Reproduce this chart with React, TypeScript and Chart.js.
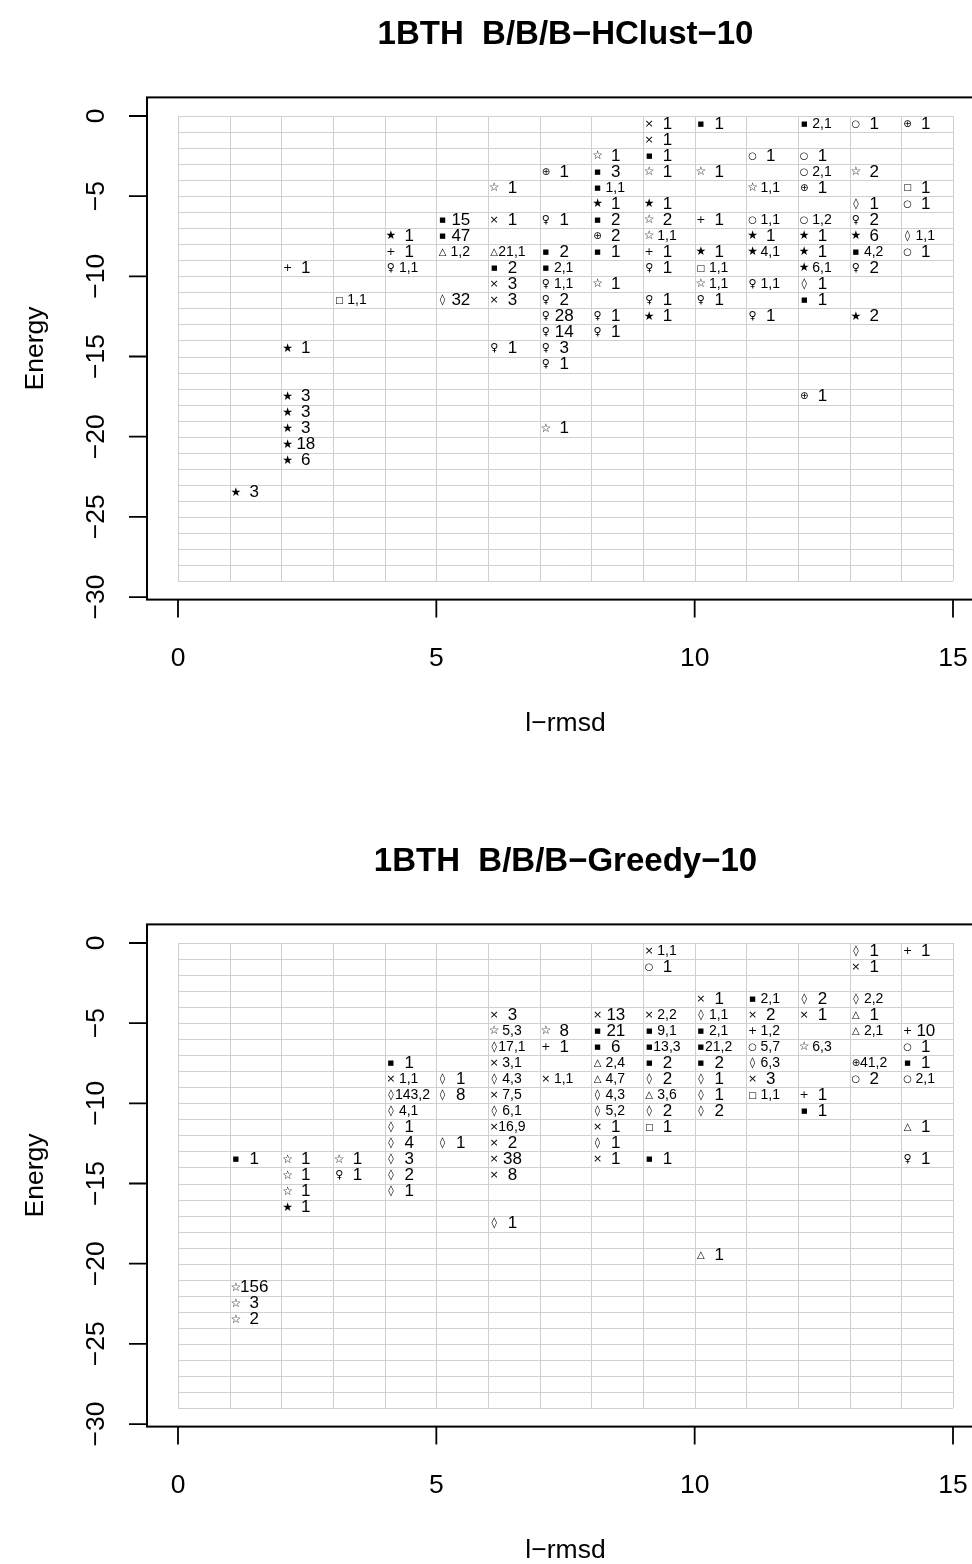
import { Chart, registerables, type ChartConfiguration, type Plugin } from "chart.js";
import { useEffect, useRef } from "react";

Chart.register(...registerables);

// Each entry is one cell: l-rmsd bin (left edge), energy bin (upper edge), symbol, count text.
const hclustRmsd = [
  9, 10, 12, 13, 14,
  9,
  8, 9, 11, 12,
  7, 8, 9, 10, 12, 13,
  6, 8, 11, 12, 14,
  8, 9, 13, 14,
  5, 6, 7, 8, 9, 10, 11, 12, 13,
  4, 5, 8, 9, 11, 12, 13, 14,
  4, 5, 6, 7, 8, 9, 10, 11, 12, 13, 14,
  2, 4, 6, 7, 9, 10, 12, 13,
  6, 7, 8, 10, 11, 12,
  3, 5, 6, 7, 9, 10, 12,
  7, 8, 9, 11, 13,
  7, 8,
  2, 6, 7,
  7,
  2, 12,
  2,
  2, 7,
  2,
  2,
  1,
];
const hclustEnergy = [
  0, 0, 0, 0, 0,
  -1,
  -2, -2, -2, -2,
  -3, -3, -3, -3, -3, -3,
  -4, -4, -4, -4, -4,
  -5, -5, -5, -5,
  -6, -6, -6, -6, -6, -6, -6, -6, -6,
  -7, -7, -7, -7, -7, -7, -7, -7,
  -8, -8, -8, -8, -8, -8, -8, -8, -8, -8, -8,
  -9, -9, -9, -9, -9, -9, -9, -9,
  -10, -10, -10, -10, -10, -10,
  -11, -11, -11, -11, -11, -11, -11,
  -12, -12, -12, -12, -12,
  -13, -13,
  -14, -14, -14,
  -15,
  -17, -17,
  -18,
  -19, -19,
  -20,
  -21,
  -23,
];
const hclustSymbol = [
  "×", "■", "■", "○", "⊕",
  "×",
  "☆", "■", "○", "○",
  "⊕", "■", "☆", "☆", "○", "☆",
  "☆", "■", "☆", "⊕", "□",
  "★", "★", "◊", "○",
  "■", "×", "♀", "■", "☆", "+", "○", "○", "♀",
  "★", "■", "⊕", "☆", "★", "★", "★", "◊",
  "+", "△", "△", "■", "■", "+", "★", "★", "★", "■", "○",
  "+", "♀", "■", "■", "♀", "□", "★", "♀",
  "×", "♀", "☆", "☆", "♀", "◊",
  "□", "◊", "×", "♀", "♀", "♀", "■",
  "♀", "♀", "★", "♀", "★",
  "♀", "♀",
  "★", "♀", "♀",
  "♀",
  "★", "⊕",
  "★",
  "★", "☆",
  "★",
  "★",
  "★",
];
const hclustCount = [
  "1", "1", "2,1", "1", "1",
  "1",
  "1", "1", "1", "1",
  "1", "3", "1", "1", "2,1", "2",
  "1", "1,1", "1,1", "1", "1",
  "1", "1", "1", "1",
  "15", "1", "1", "2", "2", "1", "1,1", "1,2", "2",
  "1", "47", "2", "1,1", "1", "1", "6", "1,1",
  "1", "1,2", "21,1", "2", "1", "1", "1", "4,1", "1", "4,2", "1",
  "1", "1,1", "2", "2,1", "1", "1,1", "6,1", "2",
  "3", "1,1", "1", "1,1", "1,1", "1",
  "1,1", "32", "3", "2", "1", "1", "1",
  "28", "1", "1", "1", "2",
  "14", "1",
  "1", "1", "3",
  "1",
  "3", "1",
  "3",
  "3", "1",
  "18",
  "6",
  "3",
];

const greedyRmsd = [
  9, 13, 14,
  9, 13,
  10, 11, 12, 13,
  6, 8, 9, 10, 11, 12, 13,
  6, 7, 8, 9, 10, 11, 13, 14,
  6, 7, 8, 9, 10, 11, 12, 14,
  4, 6, 8, 9, 10, 11, 13, 14,
  4, 5, 6, 7, 8, 9, 10, 11, 13, 14,
  4, 5, 6, 8, 9, 10, 11, 12,
  4, 6, 8, 9, 10, 12,
  4, 6, 8, 9, 14,
  4, 5, 6, 8,
  1, 2, 3, 4, 6, 8, 9, 14,
  2, 3, 4, 6,
  2, 4,
  2,
  6,
  10,
  1,
  1,
  1,
];
const greedyEnergy = [
  0, 0, 0,
  -1, -1,
  -3, -3, -3, -3,
  -4, -4, -4, -4, -4, -4, -4,
  -5, -5, -5, -5, -5, -5, -5, -5,
  -6, -6, -6, -6, -6, -6, -6, -6,
  -7, -7, -7, -7, -7, -7, -7, -7,
  -8, -8, -8, -8, -8, -8, -8, -8, -8, -8,
  -9, -9, -9, -9, -9, -9, -9, -9,
  -10, -10, -10, -10, -10, -10,
  -11, -11, -11, -11, -11,
  -12, -12, -12, -12,
  -13, -13, -13, -13, -13, -13, -13, -13,
  -14, -14, -14, -14,
  -15, -15,
  -16,
  -17,
  -19,
  -21,
  -22,
  -23,
];
const greedySymbol = [
  "×", "◊", "+",
  "○", "×",
  "×", "■", "◊", "◊",
  "×", "×", "×", "◊", "×", "×", "△",
  "☆", "☆", "■", "■", "■", "+", "△", "+",
  "◊", "+", "■", "■", "■", "○", "☆", "○",
  "■", "×", "△", "■", "■", "◊", "⊕", "■",
  "×", "◊", "◊", "×", "△", "◊", "◊", "×", "○", "○",
  "◊", "◊", "×", "◊", "△", "◊", "□", "+",
  "◊", "◊", "◊", "◊", "◊", "■",
  "◊", "×", "×", "□", "△",
  "◊", "◊", "×", "◊",
  "■", "☆", "☆", "◊", "×", "×", "■", "♀",
  "☆", "♀", "◊", "×",
  "☆", "◊",
  "★",
  "◊",
  "△",
  "☆",
  "☆",
  "☆",
];
const greedyCount = [
  "1,1", "1", "1",
  "1", "1",
  "1", "2,1", "2", "2,2",
  "3", "13", "2,2", "1,1", "2", "1", "1",
  "5,3", "8", "21", "9,1", "2,1", "1,2", "2,1", "10",
  "17,1", "1", "6", "13,3", "21,2", "5,7", "6,3", "1",
  "1", "3,1", "2,4", "2", "2", "6,3", "41,2", "1",
  "1,1", "1", "4,3", "1,1", "4,7", "2", "1", "3", "2", "2,1",
  "143,2", "8", "7,5", "4,3", "3,6", "1", "1,1", "1",
  "4,1", "6,1", "5,2", "2", "2", "1",
  "1", "16,9", "1", "1", "1",
  "4", "1", "2", "1",
  "1", "1", "1", "3", "38", "1", "1", "1",
  "1", "1", "2", "8",
  "1", "1",
  "1",
  "1",
  "1",
  "156",
  "3",
  "2",
];

const xTicks = [0, 5, 10, 15];
const yTicks = [0, -5, -10, -15, -20, -25, -30];
const gridCols = [0, 1, 2, 3, 4, 5, 6, 7, 8, 9, 10, 11, 12, 13, 14, 15];
const gridRows = [
  0, -1, -2, -3, -4, -5, -6, -7, -8, -9, -10, -11, -12, -13, -14, -15, -16, -17, -18, -19, -20,
  -21, -22, -23, -24, -25, -26, -27, -28, -29,
];

const PANEL_W = 1000;
const PANEL_H = 827;
const FONT = "'Liberation Sans', Arial, sans-serif";

// glyph sizes so the DejaVu symbols come out about the same size as in the original
const symbolSize: Record<string, number> = {
  "■": 7,
  "□": 9,
  "○": 10,
  "⊕": 10,
  "×": 11,
  "+": 11,
  "△": 10,
  "◊": 11,
  "★": 12,
  "☆": 12,
  "♀": 11,
};

const gridPlugin: Plugin<"scatter"> = {
  id: "cellGrid",
  beforeDatasetsDraw(chart) {
    const { ctx, scales } = chart;
    const x = scales.x;
    const y = scales.y;
    const top = y.getPixelForValue(gridRows[0]);
    const bottom = y.getPixelForValue(gridRows[gridRows.length - 1]);
    const left = x.getPixelForValue(gridCols[0]);
    const right = x.getPixelForValue(gridCols[gridCols.length - 1]);
    ctx.save();
    ctx.strokeStyle = "#d0d0d0";
    ctx.lineWidth = 1;
    ctx.beginPath();
    for (const c of gridCols) {
      const px = Math.round(x.getPixelForValue(c)) + 0.5;
      ctx.moveTo(px, top);
      ctx.lineTo(px, bottom);
    }
    for (const r of gridRows) {
      const py = Math.round(y.getPixelForValue(r)) + 0.5;
      ctx.moveTo(left, py);
      ctx.lineTo(right, py);
    }
    ctx.stroke();
    ctx.restore();
  },
};

const labelPlugin: Plugin<"scatter"> = {
  id: "cellLabels",
  afterDatasetsDraw(chart) {
    const { ctx } = chart;
    const symbols = (chart.data.datasets[0] as any).labels as string[];
    const counts = (chart.data.datasets[1] as any).labels as string[];
    ctx.save();
    ctx.fillStyle = "#000";
    ctx.textBaseline = "middle";

    ctx.textAlign = "center";
    chart.getDatasetMeta(0).data.forEach((el, i) => {
      const s = symbols[i];
      ctx.font = `${symbolSize[s] ?? 10}px 'DejaVu Sans'`;
      ctx.fillText(s, el.x, el.y);
    });

    ctx.textAlign = "left";
    chart.getDatasetMeta(1).data.forEach((el, i) => {
      const text = counts[i];
      const hasComma = text.includes(",");
      ctx.font = `${hasComma ? 14 : 17}px ${FONT}`;
      ctx.fillText(text.padStart(hasComma ? 4 : 3, " "), el.x, el.y);
    });
    ctx.restore();
  },
};

function makeFramePlugin(title: string): Plugin<"scatter"> {
  return {
    id: "rFrame",
    afterDraw(chart) {
      const { ctx, chartArea, scales } = chart;
      const x = scales.x;
      const y = scales.y;
      ctx.save();
      ctx.strokeStyle = "#000";
      ctx.fillStyle = "#000";

      // box
      ctx.lineWidth = 2;
      ctx.strokeRect(chartArea.left, chartArea.top, chartArea.right - chartArea.left, chartArea.bottom - chartArea.top);

      // ticks
      ctx.lineWidth = 1.8;
      ctx.beginPath();
      for (const t of xTicks) {
        const px = x.getPixelForValue(t);
        ctx.moveTo(px, chartArea.bottom);
        ctx.lineTo(px, chartArea.bottom + 18);
      }
      for (const t of yTicks) {
        const py = y.getPixelForValue(t);
        ctx.moveTo(chartArea.left, py);
        ctx.lineTo(chartArea.left - 18, py);
      }
      ctx.stroke();

      // tick labels
      ctx.font = `26.5px ${FONT}`;
      ctx.textAlign = "center";
      ctx.textBaseline = "alphabetic";
      for (const t of xTicks) {
        ctx.fillText(String(t), x.getPixelForValue(t), chartArea.bottom + 66);
      }
      for (const t of yTicks) {
        ctx.save();
        ctx.translate(chartArea.left - 43, y.getPixelForValue(t));
        ctx.rotate(-Math.PI / 2);
        ctx.fillText(t < 0 ? `\u2212${-t}` : String(t), 0, 0);
        ctx.restore();
      }

      // axis titles
      const midX = (chartArea.left + chartArea.right) / 2;
      const midY = (chartArea.top + chartArea.bottom) / 2;
      ctx.fillText("l\u2212rmsd", midX, chartArea.bottom + 131);
      ctx.save();
      ctx.translate(chartArea.left - 104, midY);
      ctx.rotate(-Math.PI / 2);
      ctx.fillText("Energy", 0, 0);
      ctx.restore();

      // main title
      ctx.font = `bold 33px ${FONT}`;
      ctx.fillText(title, midX, 44);
      ctx.restore();
    },
  };
}

function Panel({
  title,
  top,
  rmsd,
  energy,
  symbols,
  counts,
}: {
  title: string;
  top: number;
  rmsd: number[];
  energy: number[];
  symbols: string[];
  counts: string[];
}) {
  const canvasRef = useRef<HTMLCanvasElement>(null);

  useEffect(() => {
    if (!canvasRef.current) {
      return;
    }

    const config: ChartConfiguration<"scatter"> = {
      type: "scatter",
      data: {
        datasets: [
          {
            data: rmsd.map((r, i) => ({ x: r + 0.12, y: energy[i] - 0.5 })),
            pointRadius: 0,
            labels: symbols,
          } as any,
          {
            data: rmsd.map((r, i) => ({ x: r + 0.2, y: energy[i] - 0.5 })),
            pointRadius: 0,
            labels: counts,
          } as any,
        ],
      },
      options: {
        animation: false,
        responsive: true,
        maintainAspectRatio: false,
        events: [],
        layout: {
          padding: { left: 147, top: 97.4, right: PANEL_W - 984, bottom: PANEL_H - 599.6 },
        },
        plugins: {
          legend: { display: false },
          tooltip: { enabled: false },
        },
        scales: {
          x: { type: "linear", min: -0.6, max: 15.6, display: false },
          y: { type: "linear", min: -30.16, max: 1.16, display: false },
        },
      },
      plugins: [gridPlugin, labelPlugin, makeFramePlugin(title)],
    };

    const chart = new Chart(canvasRef.current, config);

    return () => {
      chart.destroy();
    };
  }, [title, rmsd, energy, symbols, counts]);

  return (
    <div style={{ position: "absolute", left: 0, top, width: PANEL_W, height: PANEL_H }}>
      <canvas ref={canvasRef} />
    </div>
  );
}

export default function App() {
  return (
    <div
      style={{
        position: "absolute",
        left: 0,
        top: 0,
        width: 972,
        height: 1564,
        overflow: "hidden",
        background: "#ffffff",
      }}
    >
      <Panel
        title={"1BTH  B/B/B\u2212HClust\u221210"}
        top={0}
        rmsd={hclustRmsd}
        energy={hclustEnergy}
        symbols={hclustSymbol}
        counts={hclustCount}
      />
      <Panel
        title={"1BTH  B/B/B\u2212Greedy\u221210"}
        top={PANEL_H}
        rmsd={greedyRmsd}
        energy={greedyEnergy}
        symbols={greedySymbol}
        counts={greedyCount}
      />
    </div>
  );
}
